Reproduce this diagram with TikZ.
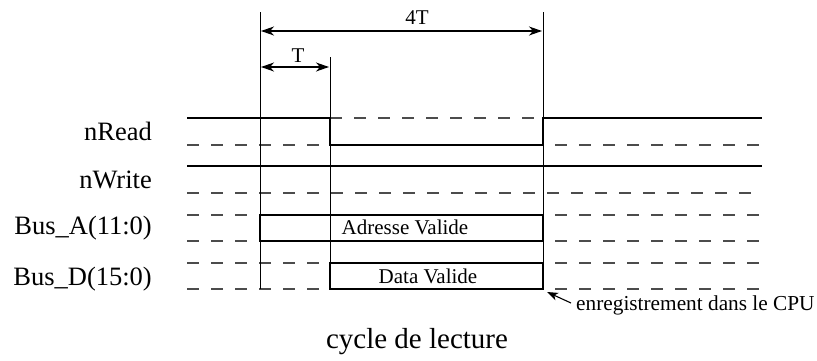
\documentclass[tikz,border=0pt]{standalone}
\usepackage{fontspec}
\setmainfont{Liberation Serif}
\usetikzlibrary{arrows.meta}
\begin{document}
\begin{tikzpicture}[x=1pt,y=-1pt,
  sig/.style={line width=2.7pt},
  grid/.style={line width=1.2pt,draw=black!70,dash pattern=on 11.5pt off 12.5pt},
  mark line/.style={line width=0.9pt},
  dim/.style={line width=1.1pt,{Stealth[length=13pt,width=9pt,inset=4pt]}-{Stealth[length=13pt,width=9pt,inset=4pt]}},
  siglabel/.style={anchor=base east,font=\fontsize{26.5}{30}\selectfont,inner sep=0pt},
  small/.style={font=\fontsize{21}{25}\selectfont,inner sep=0pt,anchor=base}]
\useasboundingbox (0,0) rectangle (817,360);

% signal span
\def\xs{187}\def\xe{762}

% signal names
\node[siglabel] (lread)  at (152,140.5) {nRead};
\node[siglabel] (lwrite) at (152,188) {nWrite};
\node[siglabel] (lbusa)  at (152,234) {Bus\_A(11:0)};
\node[siglabel] (lbusd)  at (152,285) {Bus\_D(15:0)};

% reference levels
\draw[grid] (330,118) -- (543,118);
\draw[grid] (\xs,145) -- (330,145);
\draw[grid] (555,145) -- (\xe,145);
\draw[grid] (\xs,193) -- (\xe,193);
\draw[grid] (\xs,215) -- (260,215);
\draw[grid] (\xs,241) -- (260,241);
\draw[grid] (555,215) -- (\xe,215);
\draw[grid] (555,241) -- (\xe,241);
\draw[grid] (\xs,263) -- (330,263);
\draw[grid] (\xs,289) -- (330,289);
\draw[grid] (555,263) -- (\xe,263);
\draw[grid] (555,289) -- (\xe,289);

% timing marks
\draw[mark line] (260,12) -- (260,289);
\draw[mark line] (330,57) -- (330,290);
\draw[mark line] (543,12) -- (543,290);

% waveforms
\draw[sig] (\xs,118) -- (330,118) -- (330,145) -- (543,145) -- (543,118) -- (\xe,118);
\draw[sig] (\xs,166) -- (\xe,166);
\draw[sig,line width=2.4pt] (260,215) rectangle (543,241);
\draw[sig,line width=2.4pt] (330,263) rectangle (543,289);
\node[small] (adr) at (405,234) {Adresse Valide};
\node[small] (dat) at (428,283) {Data Valide};

% durations
\coordinate (a4l) at (261,31);
\coordinate (a4r) at (542,31);
\coordinate (a1l) at (261,67);
\coordinate (a1r) at (329,67);
\draw[dim] (a4l) -- (a4r);
\draw[dim] (a1l) -- (a1r);
\node[small] (l4t) at (417,24) {4T};
\node[small] (l1t) at (298,62) {T};

% capture instant
\node[small,anchor=base west,font=\fontsize{21.3}{25}\selectfont] (cpu) at (576,310) {enregistrement dans le CPU};
\coordinate (cap) at (547,292);
\coordinate (tail) at (571,303);
\draw[line width=1.1pt,-{Stealth[length=11pt,width=8pt,inset=3pt]}] (tail) -- (cap);

\node[anchor=base,inner sep=0pt,font=\fontsize{29}{33}\selectfont] (title) at (417,348) {cycle de lecture};
\end{tikzpicture}
\end{document}
